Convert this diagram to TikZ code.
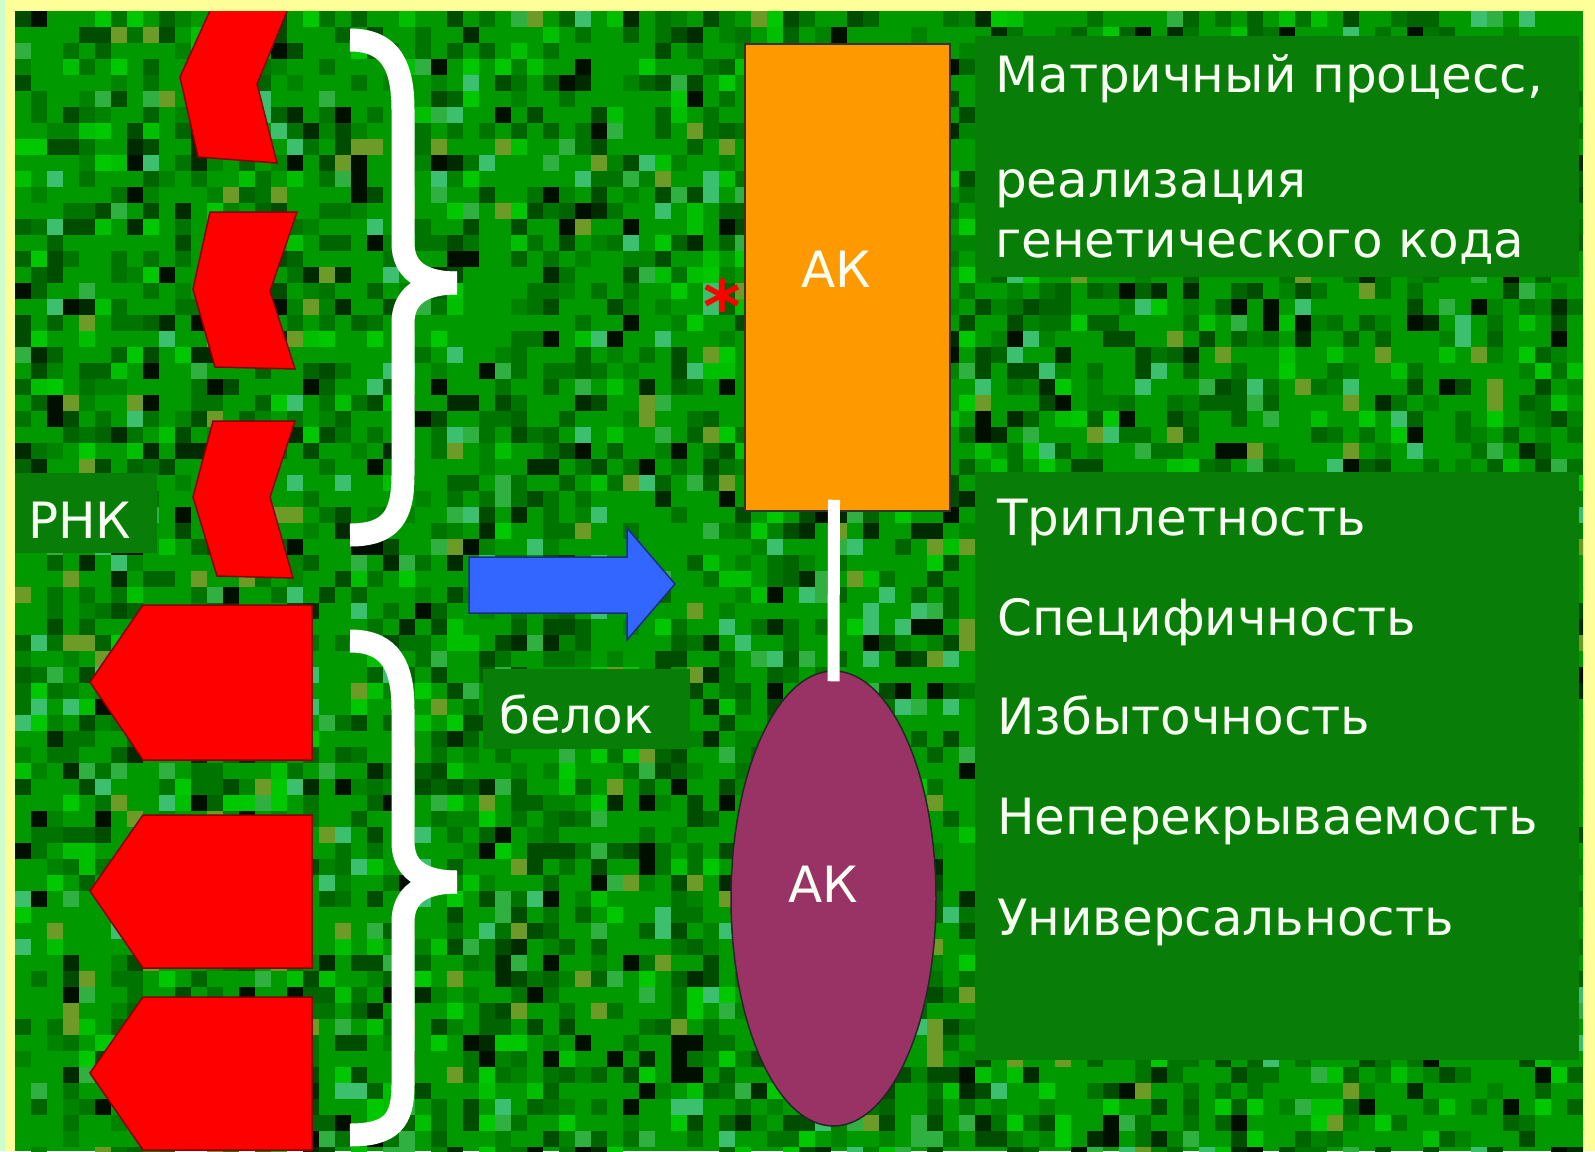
\documentclass[tikz,border=0pt]{standalone}
\usepackage{fontspec}
\setmainfont{DejaVu Sans}
\usetikzlibrary{shapes.geometric}
\definecolor{frameY}{HTML}{FFFF99}
\definecolor{frameC}{HTML}{CCFFCC}
\definecolor{bgG}{HTML}{009A00}
\definecolor{boxG}{HTML}{087D08}
\definecolor{txtW}{HTML}{F8FFF2}
\definecolor{chevR}{HTML}{FF0000}
\definecolor{chevD}{HTML}{8A0000}
\definecolor{akO}{HTML}{FF9900}
\definecolor{akM}{HTML}{993366}
\definecolor{arrB}{HTML}{3366FF}
\definecolor{arrD}{HTML}{1A2F80}
\definecolor{tex14}{HTML}{007400}
\definecolor{tex15}{HTML}{007400}
\definecolor{tex16}{HTML}{007400}
\definecolor{tex17}{HTML}{006400}
\definecolor{tex18}{HTML}{006400}
\definecolor{tex19}{HTML}{008400}
\definecolor{tex20}{HTML}{008400}
\definecolor{tex21}{HTML}{004C00}
\definecolor{tex22}{HTML}{004C00}
\definecolor{tex23}{HTML}{002A00}
\definecolor{tex24}{HTML}{000F00}
\definecolor{tex25}{HTML}{00BE00}
\definecolor{tex26}{HTML}{00C800}
\definecolor{tex27}{HTML}{3CC070}
\definecolor{tex28}{HTML}{6E9A28}
\definecolor{tex29}{HTML}{30B040}
\tikzset{
  lbl/.style={text=txtW, font=\fontsize{50}{60}\selectfont, inner sep=0pt},
  darkbox/.style={fill=boxG, inner sep=0pt, draw=none},
  chev/.style={fill=chevR, draw=chevD, line width=1.5pt, line join=miter},
  brace/.style={draw=white, line width=23pt, line cap=butt},
}
\begin{document}
\begin{tikzpicture}[x=1pt,y=-1pt]
\useasboundingbox (0,0) rectangle (1595,1151);
% frame
\fill[frameY] (0,0) rectangle (1595,1151);
\fill[frameC] (0,0) rectangle (5,1151);
\begin{scope}
\clip (15,11) rectangle (1583,1151);
\fill[bgG] (15,11) rectangle (1583,1151);
\pgfmathsetseed{11}
\foreach \i in {0,...,98}{
  \foreach \j in {0,...,71}{
    \pgfmathrandominteger{\r}{0}{29}
    \ifnum\r<14\relax\else
      \fill[tex\r] (15+\i*16,11+\j*16) rectangle +(16,16);
    \fi
  }
}
% red chevrons (top)
\path[chev] (213,4) -- (290,4) -- (257,84) -- (277,163) -- (198,157) -- (180,77) -- cycle;
\path[chev] (210,212) -- (297,212) -- (270,291) -- (295,369) -- (215,367) -- (193,289) -- cycle;
\path[chev] (213,421) -- (295,421) -- (270,497) -- (293,578) -- (217,576) -- (193,497) -- cycle;
% red pentagons (bottom)
\path[chev] (143,605) -- (312,605) -- (312,760) -- (143,760) -- (90,682) -- cycle;
\path[chev] (143,815) -- (312,815) -- (312,968) -- (143,968) -- (90,891) -- cycle;
\path[chev] (143,997) -- (312,997) -- (312,1150) -- (143,1150) -- (90,1073) -- cycle;
\end{scope}
% braces
\path[brace] (350,40) .. controls (392,40) and (403,68) .. (403,110) -- (403,243) .. controls (403,270) and (422,283) .. (457,283);
\path[brace] (457,283) .. controls (422,283) and (403,296) .. (403,323) -- (403,475) .. controls (403,515) and (392,535) .. (350,535);
\path[brace] (350,641) .. controls (392,641) and (403,668) .. (403,710) -- (403,842) .. controls (403,869) and (422,882) .. (457,882);
\path[brace] (457,882) .. controls (422,882) and (403,895) .. (403,922) -- (403,1085) .. controls (403,1120) and (392,1135) .. (350,1135);
% label boxes
\node[darkbox, minimum width=142pt, minimum height=80pt] (boxR) at (86,513) {};
\node[lbl, anchor=base west] (rnk) at (28,538) {РНК};
\node[darkbox, minimum width=207pt, minimum height=80pt] (boxB) at (586.5,709) {};
\node[lbl, anchor=base west] (belok) at (499,733) {белок};
% blue arrow
\path[fill=arrB, draw=arrD, line width=1.5pt] (469,557) -- (627,557) -- (627,528) -- (675,584) -- (627,640) -- (627,613) -- (469,613) -- cycle;
% amino acid blocks
\node[draw=black!80, line width=1.5pt, fill=akO, minimum width=205pt, minimum height=467pt, inner sep=0pt] (ak1) at (847.5,277.5) {};
\node[ellipse, draw=black!85, line width=1.5pt, fill=akM, minimum width=205pt, minimum height=455pt, inner sep=0pt] (ak2) at (833.5,898.5) {};
\draw[white, line width=12pt] ([yshift=12pt]ak1.south -| 834,0) -- ([yshift=-11pt]ak2.north);
\node[lbl, anchor=base] (ak1t) at (836,287) {АК};
\node[lbl, anchor=base] (ak2t) at (823,902) {АК};
\node[text=red, font=\fontsize{72}{80}\selectfont\bfseries, inner sep=0pt, anchor=base] (star) at (722,332) {*};
% right boxes
\node[darkbox, minimum width=604pt, minimum height=241pt] (box1) at (1277,156.5) {};
\node[lbl, anchor=base west] (m1) at (995,92) {Матричный процесс,};
\node[lbl, anchor=base west] (m2) at (995,197) {реализация};
\node[lbl, anchor=base west] (m3) at (995,257) {генетического кода};
\node[darkbox, minimum width=604pt, minimum height=588pt] (box2) at (1277,766) {};
\node[lbl, anchor=base west] (p1) at (997,535) {Триплетность};
\node[lbl, anchor=base west] (p2) at (997,635) {Специфичность};
\node[lbl, anchor=base west] (p3) at (997,734) {Избыточность};
\node[lbl, anchor=base west] (p4) at (997,834) {Неперекрываемость};
\node[lbl, anchor=base west] (p5) at (997,935) {Универсальность};
\end{tikzpicture}
\end{document}
